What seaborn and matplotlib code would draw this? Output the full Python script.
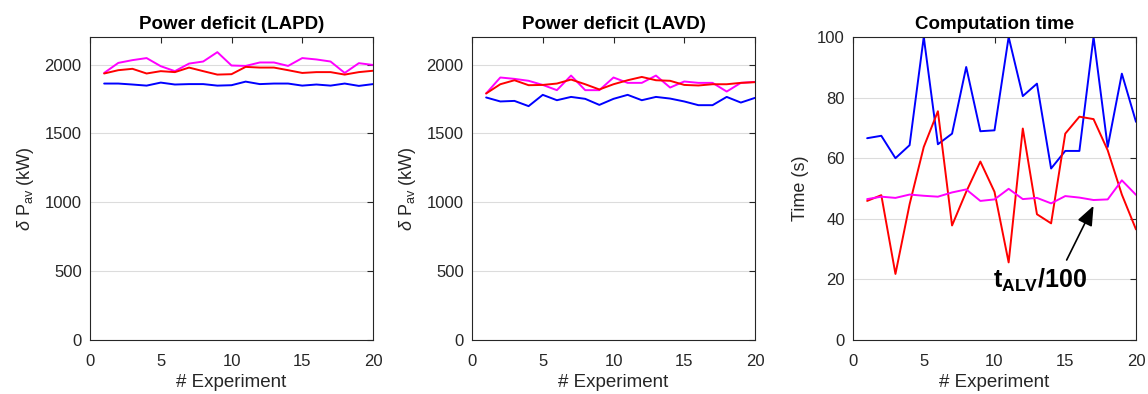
import numpy as np
import pandas as pd
import matplotlib
matplotlib.use("Agg")
import matplotlib.pyplot as plt
import seaborn as sns

experiments = list(range(1, 21))

lapd_magenta = [1939, 2012, 2032, 2047, 1988, 1952, 2007, 2022, 2090, 1993,
                1990, 2015, 2015, 1990, 2047, 2037, 2022, 1939, 2010, 1997]
lapd_red = [1935, 1959, 1969, 1935, 1952, 1945, 1978, 1952, 1927, 1930,
            1983, 1978, 1978, 1959, 1939, 1945, 1945, 1927, 1945, 1955]
lapd_blue = [1862, 1862, 1855, 1847, 1869, 1855, 1858, 1858, 1847, 1850,
             1876, 1858, 1862, 1862, 1847, 1855, 1847, 1862, 1845, 1858]

lavd_magenta = [1790, 1906, 1896, 1882, 1852, 1814, 1920, 1814, 1814, 1906,
                1867, 1867, 1920, 1833, 1877, 1867, 1867, 1804, 1867, 1874]
lavd_red = [1790, 1857, 1886, 1850, 1852, 1862, 1891, 1857, 1819, 1857,
            1886, 1910, 1886, 1882, 1852, 1848, 1857, 1857, 1867, 1872]
lavd_blue = [1761, 1732, 1736, 1698, 1780, 1741, 1765, 1751, 1707, 1751,
             1780, 1741, 1765, 1753, 1732, 1705, 1705, 1765, 1724, 1758]

time_blue = [66.6, 67.4, 60.0, 64.3, 100.0, 64.6, 68.1, 90.1, 68.9, 69.2,
             100.0, 80.5, 84.6, 56.6, 62.4, 62.4, 100.0, 63.7, 87.9, 72.0]
time_red = [45.9, 47.8, 21.8, 44.8, 63.7, 75.5, 37.8, 48.9, 58.9, 48.9,
            25.6, 69.8, 41.5, 38.5, 68.1, 73.7, 72.9, 62.6, 48.0, 36.5]
time_magenta = [46.5, 47.3, 46.9, 48.0, 47.6, 47.3, 48.7, 49.7, 45.9, 46.4,
                49.9, 46.5, 46.9, 45.1, 47.5, 47.0, 46.2, 46.4, 52.7, 47.9]

titles = ["Power deficit (LAPD)", "Power deficit (LAVD)", "Computation time"]
xticks = [0, 5, 10, 15, 20]

sns.set_theme(style="white")
plt.rcParams['font.family'] = ['Liberation Sans', 'DejaVu Sans']
plt.rcParams['mathtext.fontset'] = 'custom'
plt.rcParams['mathtext.rm'] = 'Liberation Sans'
plt.rcParams['mathtext.it'] = 'Liberation Sans:italic'
plt.rcParams['mathtext.bf'] = 'Liberation Sans:bold'

colors = {"blue": "#0000ff", "red": "#ff0000", "magenta": "#ff00ff"}
txt = "#262626"

fig = plt.figure(figsize=(11.48, 3.94), dpi=100)
W, H = 1148, 394
lefts = [90, 472, 853]
axw = 283
bottom_px, top_px = 340, 37


def make_df(blue, red, magenta):
    rows = []
    for name, vals in [("blue", blue), ("red", red), ("magenta", magenta)]:
        for e, v in zip(experiments, vals):
            rows.append({"exp": e, "val": v, "series": name})
    return pd.DataFrame(rows)


datasets = [
    make_df(lapd_blue, lapd_red, lapd_magenta),
    make_df(lavd_blue, lavd_red, lavd_magenta),
    make_df(time_blue, time_red, time_magenta),
]

axes = []
for i in range(3):
    ax = fig.add_axes([lefts[i] / W, (H - bottom_px) / H, axw / W, (bottom_px - top_px) / H])
    axes.append(ax)
    df = datasets[i]
    order = ["magenta", "red", "blue"] if i < 2 else ["blue", "red", "magenta"]
    sns.lineplot(data=df, x="exp", y="val", hue="series", hue_order=order,
                 palette=colors, legend=False, linewidth=1.4, ax=ax)
    ax.set_xlim(0, 20)
    ax.set_xticks(xticks)
    if i < 2:
        ax.set_ylim(0, 2200)
        ax.set_yticks([0, 500, 1000, 1500, 2000])
        ax.set_ylabel(r'$\delta$ P$_{\rm av}$ (kW)', fontsize=13, color=txt, labelpad=6)
    else:
        ax.set_ylim(0, 100)
        ax.set_yticks([0, 20, 40, 60, 80, 100])
        ax.set_ylabel("Time (s)", fontsize=13, color=txt, labelpad=6)
    ax.set_xlabel("# Experiment", fontsize=13.5, color=txt, labelpad=4)
    ax.set_title(titles[i], fontsize=13.5, fontweight="bold", color="black", pad=6)
    ax.yaxis.grid(True, color="#dcdcdc", linewidth=0.8)
    ax.xaxis.grid(False)
    ax.set_axisbelow(True)
    ax.tick_params(direction="in", length=4, width=0.8, top=True, right=True,
                   labelsize=12, colors=txt)
    ax.tick_params(axis="x", pad=10)
    ax.tick_params(axis="y", pad=6)
    for s in ax.spines.values():
        s.set_visible(True)
        s.set_color(txt)
        s.set_linewidth(0.8)

ax3 = axes[2]
ax3.annotate("", xy=(17.0, 44.3), xytext=(15.1, 26.4),
             arrowprops=dict(arrowstyle="-|>,head_length=1.0,head_width=0.4",
                             color="black", lw=1.2, shrinkA=0, shrinkB=0))
ax3.text(13.2, 19.8, r'$\mathbf{t_{ALV}}$/100', fontsize=18, fontweight="bold",
         ha="center", va="center", color="black")

fig.savefig("out.png", dpi=100)
